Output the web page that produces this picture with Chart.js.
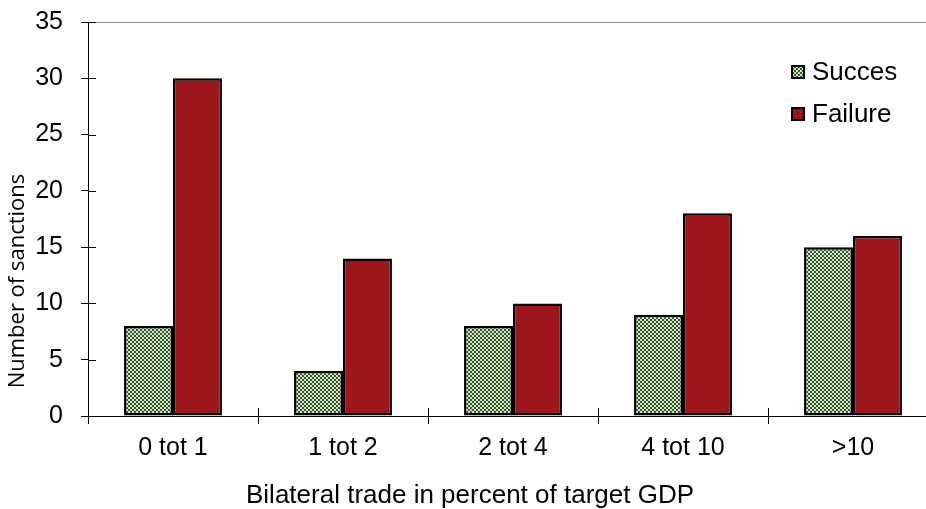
<!DOCTYPE html>
<html>
<head>
<meta charset="utf-8">
<script src="https://cdn.jsdelivr.net/npm/chart.js@4/dist/chart.umd.min.js"></script>
<style>
  html, body { margin: 0; padding: 0; background: #fff; overflow: hidden; }
  #wrap { position: absolute; left: 0; top: -11px; width: 940px; height: 520px; }
</style>
</head>
<body>
<div id="wrap"><canvas id="c" width="940" height="520"></canvas></div>
<script>
// Sanction outcomes by bilateral trade share
const categories = ['0 tot 1', '1 tot 2', '2 tot 4', '4 tot 10', '>10'];
const succesValues = [8, 4, 8, 9, 15];
const failureValues = [30, 14, 10, 18, 16];
const seriesNames = ['Succes', 'Failure'];
const xTitle = 'Bilateral trade in percent of target GDP';
const yTitle = 'Number of sanctions';

// the canvas sits 11px above the page top
const SHIFT = 11;

// small checkerboard fill for the "Succes" bars
function checkerPattern() {
  const p = document.createElement('canvas');
  p.width = 4; p.height = 4;
  const g = p.getContext('2d');
  g.fillStyle = '#d3dfcb';
  g.fillRect(0, 0, 4, 4);
  g.fillStyle = '#335c28';
  g.fillRect(0, 0, 2, 2);
  g.fillRect(2, 2, 2, 2);
  return g.createPattern(p, 'repeat');
}
const checker = checkerPattern();
const failureColor = '#9c161c';

const AXIS_FONT = { family: '"Liberation Sans", Arial, sans-serif', size: 25 };

// top frame line plus the inward half of the tick marks on both axes
const innerTicks = {
  id: 'innerTicks',
  beforeDatasetsDraw(chart) {
    const { ctx, chartArea, scales: { y } } = chart;
    ctx.save();
    ctx.strokeStyle = '#8a8a8a';
    ctx.lineWidth = 1;
    const top = Math.round(y.getPixelForValue(y.max)) + 0.5;
    ctx.beginPath();
    ctx.moveTo(chartArea.left, top);
    ctx.lineTo(chartArea.right, top);
    ctx.stroke();
    ctx.restore();
  },
  afterDatasetsDraw(chart) {
    const { ctx, scales: { x, y } } = chart;
    ctx.save();
    ctx.strokeStyle = '#000';
    ctx.lineWidth = 1;
    y.ticks.forEach(t => {
      const py = Math.round(y.getPixelForValue(t.value)) + 0.5;
      ctx.beginPath();
      ctx.moveTo(y.right, py);
      ctx.lineTo(y.right + 8, py);
      ctx.stroke();
    });
    for (let i = 1; i < categories.length; i++) {
      const px = Math.round((x.getPixelForValue(i - 1) + x.getPixelForValue(i)) / 2) + 0.5;
      ctx.beginPath();
      ctx.moveTo(px, x.top);
      ctx.lineTo(px, x.top - 8);
      ctx.stroke();
    }
    ctx.restore();
  }
};

// axis titles and legend drawn inside the plot
const annotations = {
  id: 'annotations',
  afterDraw(chart) {
    const { ctx } = chart;
    ctx.save();
    ctx.translate(0, SHIFT);
    ctx.fillStyle = '#000';
    ctx.font = '26px "Liberation Sans", Arial, sans-serif';
    ctx.textAlign = 'center';
    ctx.textBaseline = 'middle';
    ctx.fillText(xTitle, 470, 496);

    ctx.save();
    ctx.translate(18, 281);
    ctx.rotate(-Math.PI / 2);
    ctx.font = '22px "Open Sans", sans-serif';
    ctx.fillText(yTitle, 0, 0);
    ctx.restore();

    const fills = [checker, failureColor];
    const ys = [72, 114];
    ctx.textAlign = 'left';
    ctx.font = '26px "Liberation Sans", Arial, sans-serif';
    seriesNames.forEach((name, i) => {
      const x0 = 792, y0 = ys[i] - 6;
      ctx.fillStyle = fills[i];
      ctx.fillRect(x0, y0, 12, 12);
      ctx.strokeStyle = '#000';
      ctx.lineWidth = 2;
      ctx.strokeRect(x0, y0, 12, 12);
      ctx.fillStyle = '#000';
      ctx.fillText(name, 812, ys[i] + 1);
    });
    ctx.restore();
  }
};

new Chart(document.getElementById('c'), {
  type: 'bar',
  data: {
    labels: categories,
    datasets: [
      { label: seriesNames[0], data: succesValues, backgroundColor: checker,
        borderColor: '#000', borderWidth: 2.5, borderSkipped: false },
      { label: seriesNames[1], data: failureValues, backgroundColor: failureColor,
        borderColor: '#000', borderWidth: 2.5, borderSkipped: false }
    ]
  },
  options: {
    responsive: false,
    animation: false,
    events: [],
    layout: { padding: { left: 0, top: 0, right: 2, bottom: 0 } },
    datasets: { bar: { categoryPercentage: 0.576, barPercentage: 1.0 } },
    plugins: { legend: { display: false }, tooltip: { enabled: false } },
    scales: {
      x: {
        offset: true,
        grid: { offset: true, drawOnChartArea: false, tickLength: 8, color: '#000', lineWidth: 1 },
        border: { color: '#000', width: 1 },
        ticks: { color: '#000', font: AXIS_FONT, padding: 9, maxRotation: 0 },
        afterFit(s) { s.height = 520 - (416 + SHIFT); }
      },
      y: {
        min: 0, max: 35,
        ticks: { stepSize: 5, color: '#000', font: AXIS_FONT, padding: 18 },
        grid: { drawOnChartArea: false, tickLength: 7, color: '#000', lineWidth: 1 },
        border: { color: '#000', width: 1 },
        afterFit(s) { s.width = 88; }
      }
    }
  },
  plugins: [innerTicks, annotations]
});
</script>
</body>
</html>
